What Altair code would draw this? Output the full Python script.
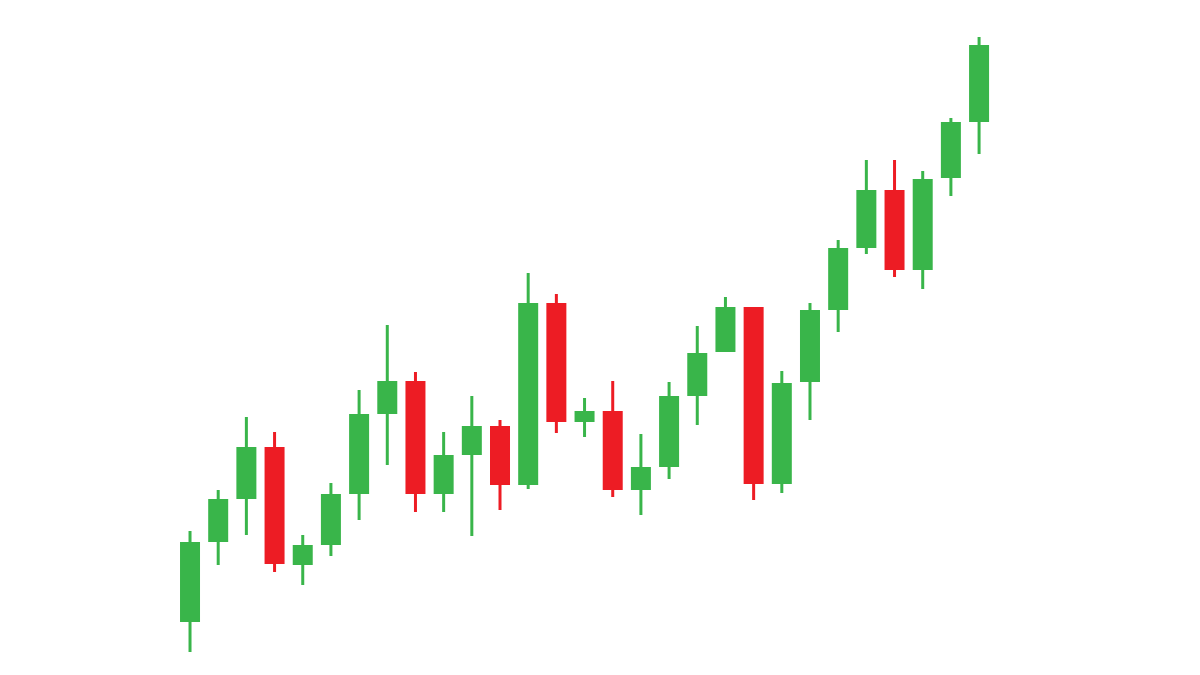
import altair as alt
import pandas as pd

day = list(range(29))
open_ = [78, 158, 201, 253, 135, 155, 206, 286, 319, 206, 245, 274, 215, 397, 278,
         289, 210, 233, 304, 348, 393, 216, 318, 390, 452, 510, 430, 522, 578]
close = [158, 201, 253, 136, 155, 206, 286, 319, 206, 245, 274, 215, 397, 278, 289,
         210, 233, 304, 347, 393, 216, 317, 390, 452, 510, 430, 521, 578, 655]
high = [169, 210, 283, 268, 165, 217, 310, 375, 328, 268, 304, 280, 427, 406, 302,
        319, 266, 318, 374, 403, 393, 329, 397, 460, 540, 540, 529, 582, 663]
low = [48, 135, 165, 128, 115, 144, 180, 235, 188, 188, 164, 190, 211, 267, 263,
       203, 185, 221, 275, 348, 200, 207, 280, 368, 446, 423, 411, 504, 546]

df = pd.DataFrame({"day": day, "open": open_, "close": close, "high": high, "low": low})
df["dir"] = ["up" if c >= o else "down" for o, c in zip(open_, close)]

xs = alt.X("day:Q", scale=alt.Scale(domain=[-6.459, 32.575], nice=False, zero=False, padding=0), axis=None)
ys = alt.Scale(domain=[42, 692], nice=False, zero=False, padding=0)
color = alt.Color("dir:N", scale=alt.Scale(domain=["up", "down"], range=["#39b54a", "#ed1c24"]), legend=None)

base = alt.Chart(df)
wick = base.mark_rule(strokeWidth=3).encode(
    x=xs, y=alt.Y("low:Q", scale=ys, axis=None), y2="high:Q", color=color)
body = base.mark_bar(size=20).encode(
    x=xs, y=alt.Y("open:Q", scale=ys, axis=None), y2="close:Q", color=color)

chart = alt.layer(wick, body).properties(
    width=1100, height=650, autosize=alt.AutoSizeParams(type="none"), padding=0,
    background="white"
).configure_view(strokeWidth=0)

chart.save("out.html", embed_options={"renderer": "svg", "actions": False})
